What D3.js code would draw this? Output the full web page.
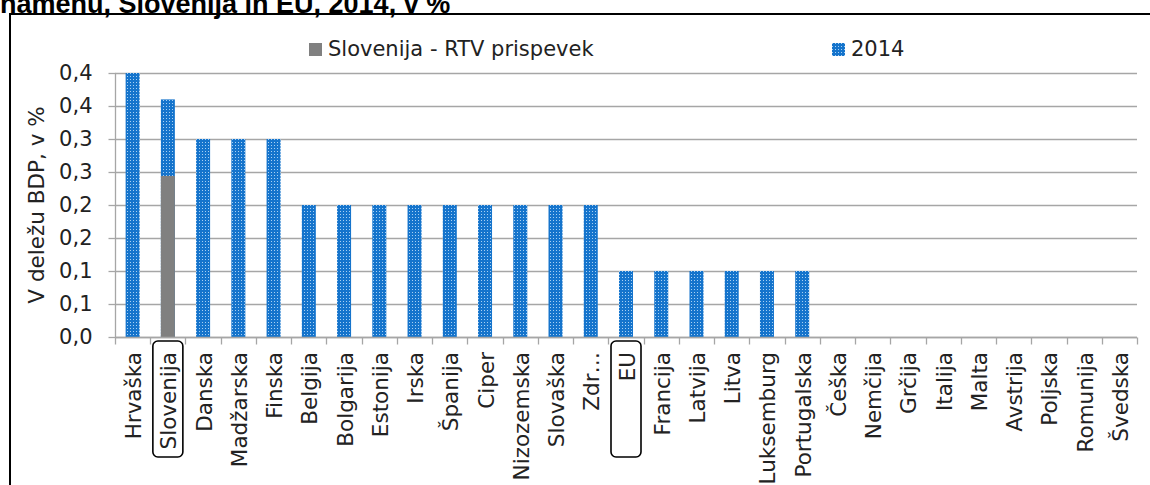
<!DOCTYPE html>
<html>
<head>
<meta charset="utf-8">
<script src="https://cdn.jsdelivr.net/npm/d3@7"></script>
<style>
  body { margin: 0; background: #fff; }
  svg { display: block; }
</style>
</head>
<body>
<div id="chart"></div>
<script>
const width = 1150;
const height = 485;

// data
const categories = ["Hrvaška", "Slovenija", "Danska", "Madžarska", "Finska", "Belgija", "Bolgarija",
  "Estonija", "Irska", "Španija", "Ciper", "Nizozemska", "Slovaška", "Zdr…", "EU", "Francija",
  "Latvija", "Litva", "Luksemburg", "Portugalska", "Češka", "Nemčija", "Grčija", "Italija",
  "Malta", "Avstrija", "Poljska", "Romunija", "Švedska"];
const values2014 = [0.4, 0.36, 0.3, 0.3, 0.3, 0.2, 0.2, 0.2, 0.2, 0.2, 0.2, 0.2, 0.2, 0.2,
  0.1, 0.1, 0.1, 0.1, 0.1, 0.1, 0, 0, 0, 0, 0, 0, 0, 0, 0];
const rtvSlovenija = [null, 0.244, null, null, null, null, null, null, null, null, null, null, null, null,
  null, null, null, null, null, null, null, null, null, null, null, null, null, null, null];
const yTicks = [0, 0.05, 0.1, 0.15, 0.2, 0.25, 0.3, 0.35, 0.4];
const yTickLabels = ["0,0", "0,1", "0,1", "0,2", "0,2", "0,3", "0,3", "0,4", "0,4"];
const highlighted = ["Slovenija", "EU"];
const legendLabels = ["Slovenija - RTV prispevek", "2014"];

const margin = {top: 73, right: 13, bottom: 148, left: 115};

const svg = d3.select("#chart")
  .append("svg")
  .attr("width", width)
  .attr("height", height);

// dotted blue fill like the Excel pattern
const defs = svg.append("defs");
const pat = defs.append("pattern")
  .attr("id", "dots")
  .attr("width", 3)
  .attr("height", 3)
  .attr("patternUnits", "userSpaceOnUse");
pat.append("rect").attr("width", 3).attr("height", 3).attr("fill", "#1574cc");
pat.append("rect").attr("x", 1).attr("y", 1).attr("width", 1).attr("height", 1).attr("fill", "#a8d0f2");

// title, cut off at the top like in the source
svg.append("text")
  .attr("x", 0)
  .attr("y", 13)
  .style("font-family", "Liberation Sans, Arial, sans-serif")
  .style("font-weight", "bold")
  .style("font-size", "27px")
  .text("namenu, Slovenija in EU, 2014, v %");

// outer frame
svg.append("path")
  .attr("d", `M10,${height + 5}V14H${width + 5}`)
  .attr("fill", "none")
  .attr("stroke", "#000")
  .attr("stroke-width", 2);

const x = d3.scaleBand()
  .domain(categories)
  .range([margin.left, width - margin.right])
  .paddingInner(0)
  .paddingOuter(0);

const y = d3.scaleLinear()
  .domain([0, 0.4])
  .range([height - margin.bottom, margin.top]);

const font = "DejaVu Sans, sans-serif";
const grey = "#a6a6a6";

// gridlines
svg.append("g")
  .selectAll("line")
  .data(yTicks)
  .join("line")
  .attr("x1", margin.left)
  .attr("x2", width - margin.right)
  .attr("y1", d => Math.round(y(d)) + 0.5)
  .attr("y2", d => Math.round(y(d)) + 0.5)
  .attr("stroke", grey)
  .attr("stroke-width", 1.3);

// y axis
const yAxis = svg.append("g")
  .attr("transform", `translate(${margin.left + 0.5},0)`)
  .call(d3.axisLeft(y).tickValues(yTicks).tickFormat((d, i) => yTickLabels[i]).tickSize(7).tickPadding(16));
yAxis.selectAll("line").attr("stroke", grey).attr("stroke-width", 1.3);
yAxis.select(".domain").attr("stroke", grey).attr("stroke-width", 1.3).attr("d", `M0,${y(0)}V${y(0.4)}`);
yAxis.selectAll("text")
  .style("font-family", font)
  .style("font-size", "21px")
  .attr("fill", "#222");

// bars
const barW = 14;
svg.append("g")
  .selectAll("rect")
  .data(values2014)
  .join("rect")
  .attr("x", (d, i) => x(categories[i]) + x.bandwidth() / 2 - barW / 2)
  .attr("y", d => y(d))
  .attr("width", barW)
  .attr("height", d => y(0) - y(d))
  .attr("fill", "url(#dots)");

svg.append("g")
  .selectAll("rect")
  .data(rtvSlovenija.map((v, i) => ({v, c: categories[i]})).filter(d => d.v != null))
  .join("rect")
  .attr("x", d => x(d.c) + x.bandwidth() / 2 - barW / 2)
  .attr("y", d => y(d.v))
  .attr("width", barW)
  .attr("height", d => y(0) - y(d.v))
  .attr("fill", "#808080");

// x axis, ticks sit between the categories
const xBase = Math.round(y(0)) + 0.5;
svg.append("line")
  .attr("x1", margin.left)
  .attr("x2", width - margin.right)
  .attr("y1", xBase)
  .attr("y2", xBase)
  .attr("stroke", grey)
  .attr("stroke-width", 1.3);
svg.append("g")
  .selectAll("line")
  .data(categories.concat([null]))
  .join("line")
  .attr("x1", (d, i) => Math.round(margin.left + i * x.step()) + 0.5)
  .attr("x2", (d, i) => Math.round(margin.left + i * x.step()) + 0.5)
  .attr("y1", xBase)
  .attr("y2", xBase + 7)
  .attr("stroke", grey)
  .attr("stroke-width", 1.3);

// rounded boxes round the highlighted labels
svg.append("g")
  .selectAll("rect")
  .data(highlighted)
  .join("rect")
  .attr("x", d => x(d) + x.bandwidth() / 2 - 15)
  .attr("y", 341)
  .attr("width", 30)
  .attr("height", 116)
  .attr("rx", 5)
  .attr("fill", "none")
  .attr("stroke", "#000")
  .attr("stroke-width", 1.6);

// category labels
svg.append("g")
  .selectAll("text")
  .data(categories)
  .join("text")
  .attr("transform", d => `translate(${x(d) + x.bandwidth() / 2 + 8.5},352) rotate(-90)`)
  .attr("text-anchor", "end")
  .style("font-family", font)
  .style("font-size", "21.5px")
  .attr("fill", "#222")
  .text(d => d);

// y axis title
svg.append("text")
  .attr("transform", "translate(44,205) rotate(-90)")
  .attr("text-anchor", "middle")
  .style("font-family", font)
  .style("font-size", "21.5px")
  .attr("fill", "#222")
  .text("V deležu BDP, v %");

// legend
const legend = svg.append("g");
const legendPos = [309, 832];
const legendFill = ["#808080", "url(#dots)"];
legendLabels.forEach((lab, i) => {
  legend.append("rect")
    .attr("x", legendPos[i])
    .attr("y", 43)
    .attr("width", 13)
    .attr("height", 13)
    .attr("fill", legendFill[i]);
  legend.append("text")
    .attr("x", legendPos[i] + 19)
    .attr("y", 56)
    .style("font-family", font)
    .style("font-size", "21px")
    .attr("fill", "#222")
    .text(lab);
});
</script>
</body>
</html>
